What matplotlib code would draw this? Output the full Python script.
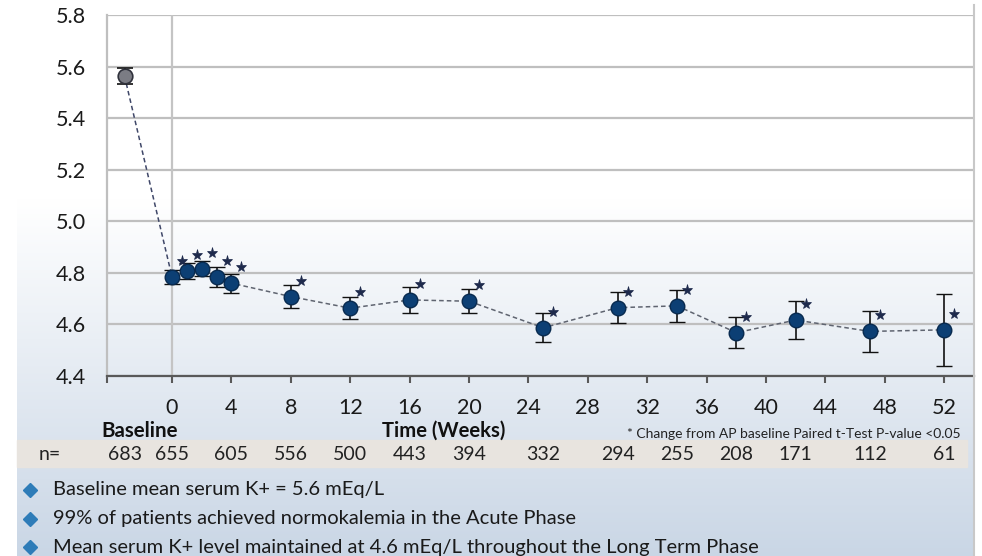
import numpy as np
import matplotlib.pyplot as plt
from matplotlib.lines import Line2D
from matplotlib.patches import Rectangle
import matplotlib.transforms as mtransforms

plt.rcParams['font.family'] = ['Lato', 'DejaVu Sans']

W, H = 982, 556

# ---- data ----
base_week = -3.2
base_mean = 5.563
base_err = 0.032

weeks = [0, 1, 2, 3, 4, 8, 12, 16, 20, 25, 30, 34, 38, 42, 47, 52]
k_mean = [4.784, 4.807, 4.816, 4.783, 4.760, 4.708, 4.663, 4.695,
          4.690, 4.587, 4.665, 4.672, 4.568, 4.617, 4.573, 4.579]
k_err = [0.027, 0.030, 0.029, 0.038, 0.037, 0.046, 0.043, 0.050,
         0.047, 0.057, 0.059, 0.061, 0.061, 0.073, 0.081, 0.140]

n_weeks = [base_week, 0, 4, 8, 12, 16, 20, 25, 30, 34, 38, 42, 47, 52]
n_values = [683, 655, 605, 556, 500, 443, 394, 332, 294, 255, 208, 171, 112, 61]

x_ticks = list(range(0, 53, 4))
y_ticks = [4.4, 4.6, 4.8, 5.0, 5.2, 5.4, 5.6, 5.8]

bullets = [
    'Baseline mean serum K+ = 5.6 mEq/L',
    '99% of patients achieved normokalemia in the Acute Phase',
    'Mean serum K+ level maintained at 4.6 mEq/L throughout the Long Term Phase',
]


def px(x, y):
    return x / W, 1 - y / H


fig = plt.figure(figsize=(W / 100, H / 100), dpi=100)

# background panel with a soft vertical gradient
bg = fig.add_axes([17 / W, 0, (974 - 17) / W, 1], zorder=-10)
bg.axis('off')
rows = np.linspace(0, 1, 400)
t = np.clip((rows * H - 200) / (H - 200), 0, 1)
top = np.array([1.0, 1.0, 1.0])
bot = np.array([0.79, 0.84, 0.90])
grad = top[None, :] * (1 - t[:, None]) + bot[None, :] * t[:, None]
bg.imshow(grad[:, None, :], aspect='auto', extent=[0, 1, 0, 1], origin='upper')

# band behind n= row
fig.patches.append(Rectangle(px(17, 467), (967 - 17) / W, 27 / H,
                             transform=fig.transFigure, color='#e8e4df', zorder=-5))
# right border of the panel
fig.lines.append(Line2D([974 / W, 974 / W], [0, 1 - 5 / H], transform=fig.transFigure,
                        color='#c8c8c8', lw=1.5))

ax = fig.add_axes([107 / W, 1 - 376 / H, (974 - 107) / W, (376 - 15) / H])
ax.set_facecolor('none')

x0 = -4.38
ax.set_xlim(x0, 54.0)
ax.set_ylim(4.4, 5.8)

ax.set_yticks(y_ticks)
ax.set_yticklabels(['%.1f' % v for v in y_ticks], fontsize=15.5, color='#1a1a1a')
ax.yaxis.grid(True, color='#bfbfbf', lw=1.6)
ax.axvline(0, color='#c4c4c4', lw=1.6, zorder=1)
ax.tick_params(axis='y', length=0, pad=15)

ax.set_xticks([x0] + x_ticks)
ax.set_xticklabels([''] + [str(v) for v in x_ticks], fontsize=15.5, color='#1a1a1a')
ax.tick_params(axis='x', direction='out', length=5, width=1.5, color='#595959', pad=11)

for s in ['top', 'right']:
    ax.spines[s].set_visible(False)
ax.spines['left'].set_color('#bfbfbf')
ax.spines['left'].set_linewidth(1.6)
ax.spines['bottom'].set_color('#595959')
ax.spines['bottom'].set_linewidth(1.6)
ax.set_axisbelow(True)

# connecting dashed lines
ax.plot([base_week, weeks[0]], [base_mean, k_mean[0]], color='#3f4768', lw=1.1,
        dashes=(3, 2), zorder=2)
ax.plot(weeks, k_mean, color='#5f6470', lw=1.1, dashes=(3, 2), zorder=2)

# baseline point
ax.errorbar([base_week], [base_mean], yerr=[base_err], fmt='o', ms=10.5,
            mfc='#7b7c84', mec='#30323c', mew=1.2, ecolor='#111111', elinewidth=1.2,
            capsize=6, capthick=1.2, zorder=3)
# follow-up points
ax.errorbar(weeks, k_mean, yerr=k_err, fmt='o', ms=10.5,
            mfc='#0c3f74', mec='#082a4f', mew=1.0, ecolor='#111111', elinewidth=1.2,
            capsize=6, capthick=1.2, zorder=3)

# significance stars, up and right of each point
star_trans = ax.transData + mtransforms.ScaledTranslation(0.10, 0.16, fig.dpi_scale_trans)
ax.plot(weeks, k_mean, ls='none', marker='*', ms=8, color='#1e2a4c',
        mec='#1e2a4c', mew=0.5, transform=star_trans, zorder=4)

# n= row
trans = mtransforms.blended_transform_factory(ax.transData, fig.transFigure)
fig.text(*px(50, 455), 'n=', fontsize=14, ha='center', va='center', color='#222222')
for wk, n in zip(n_weeks, n_values):
    fig.text(wk, 1 - 455 / H, str(n), transform=trans, fontsize=14,
             ha='center', va='center', color='#222222')

fig.text(*px(140, 431), 'Baseline', fontsize=14.8, fontweight='bold',
         ha='center', va='center', color='#111111')
fig.text(*px(444, 431), 'Time (Weeks)', fontsize=14.6, fontweight='bold',
         ha='center', va='center', color='#111111')
fig.text(*px(961, 434), '* Change from AP baseline Paired t-Test P-value <0.05',
         fontsize=10, ha='right', va='center', color='#222222')

for i, line in enumerate(bullets):
    y = 490 + i * 28.5
    fig.lines.append(Line2D([30 / W], [1 - y / H], transform=fig.transFigure,
                            marker='D', ms=7, color='#2e7cb8', ls='none'))
    fig.text(*px(53, y), line, fontsize=14.5, ha='left', va='center', color='#1a1a1a')

fig.savefig('out.png', dpi=100)
